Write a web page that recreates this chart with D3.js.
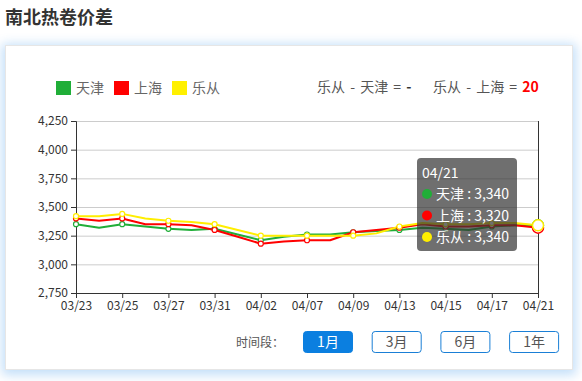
<!DOCTYPE html>
<html><head><meta charset="utf-8">
<script src="https://cdn.jsdelivr.net/npm/d3@7"></script>
<style>
html,body{margin:0;padding:0;background:#fff;}
body{width:582px;height:381px;position:relative;overflow:hidden;font-family:"Microsoft YaHei","Noto Sans CJK SC",sans-serif;}
#card{position:absolute;left:5px;top:45px;width:568px;height:325px;background:#fff;border:1px solid #e6e6e6;box-sizing:border-box;box-shadow:0 2px 10px 3px rgba(40,140,235,0.28);}
svg{position:absolute;left:0;top:0;}
</style></head>
<body>
<div id="card"></div>
<svg id="chart" width="582" height="381"></svg>
<script>
const dates = ["03/23","03/24","03/25","03/26","03/27","03/30","03/31","04/01","04/02","04/03","04/07","04/08","04/09","04/10","04/13","04/14","04/15","04/16","04/17","04/20","04/21"];
const tianjin  = [3350,3320,3350,3330,3310,3300,3310,3260,3210,3240,3260,3260,3280,3290,3300,3320,3310,3300,3330,3340,3340];
const shanghai = [3400,3380,3400,3350,3350,3340,3300,3240,3180,3200,3210,3210,3280,3300,3320,3350,3330,3330,3340,3340,3320];
const lecong   = [3420,3420,3440,3400,3380,3370,3350,3300,3250,3250,3250,3250,3250,3270,3330,3360,3350,3350,3360,3360,3340];
const seriesNames = ["天津","上海","乐从"];
const colors = ["#20ae38","#ff0000","#ffee00"];
const yTicks = [2750,3000,3250,3500,3750,4000,4250];
const periods = ["1月","3月","6月","1年"];

(function(){
const svg = d3.select("#chart");
const font = '"Microsoft YaHei","Noto Sans CJK SC",sans-serif';

// title
svg.append("text").attr("x",5).attr("y",24).attr("font-size",18).attr("font-weight","bold")
  .attr("fill","#333").attr("font-family",font).text("南北热卷价差");

const pL=76,pR=538,pT=121,pB=293;
const x = d3.scalePoint().domain(dates).range([pL,pR]);
const y = d3.scaleLinear().domain([2750,4250]).range([pB,pT]);

// grid
svg.append("g").selectAll("line").data(yTicks).join("line")
  .attr("x1",pL).attr("x2",pR).attr("y1",d=>y(d)+0.5).attr("y2",d=>y(d)+0.5)
  .attr("stroke","#ccc").attr("stroke-width",1);

// y axis
const yAxis = svg.append("g").attr("transform",`translate(${pL},0)`)
  .call(d3.axisLeft(y).tickValues(yTicks).tickFormat(d3.format(",")).tickSize(5).tickPadding(3));
yAxis.select(".domain").attr("stroke","#333");
yAxis.selectAll(".tick line").attr("stroke","#333");
yAxis.selectAll("text").attr("font-size",12).attr("fill","#333").attr("font-family",font);
// right axis line
svg.append("line").attr("x1",pR+0.5).attr("x2",pR+0.5).attr("y1",pT).attr("y2",pB)
  .attr("stroke","#333");

// x axis
const labeled = dates.filter((d,i)=>i%2===0);
const xAxis = svg.append("g").attr("transform",`translate(0,${pB})`)
  .call(d3.axisBottom(x).tickValues(labeled).tickSize(5).tickPadding(3).tickSizeOuter(0));
xAxis.select(".domain").attr("stroke","#333");
xAxis.selectAll(".tick line").attr("stroke","#333");
xAxis.selectAll("text").attr("font-size",12).attr("fill","#333").attr("font-family",font);

// lines
const data = [tianjin, shanghai, lecong];
const line = d3.line().x((d,i)=>x(dates[i])).y(d=>y(d));
data.forEach((vals,k)=>{
  svg.append("path").datum(vals).attr("d",line).attr("fill","none")
    .attr("stroke",colors[k]).attr("stroke-width",2).attr("stroke-linejoin","round");
});
data.forEach((vals,k)=>{
  svg.append("g").selectAll("circle").data(vals.map((v,i)=>({v,i})).filter(d=>d.i%2===0 && d.i!==dates.length-1))
    .join("circle").attr("cx",d=>x(dates[d.i])).attr("cy",d=>y(d.v)).attr("r",2.5)
    .attr("fill","#fff").attr("stroke",colors[k]).attr("stroke-width",1.2);
});
// hover markers at last point
const last = dates.length-1;
data.forEach((vals,k)=>{
  svg.append("circle").attr("cx",x(dates[last])).attr("cy",y(vals[last])).attr("r",5.5)
    .attr("fill","#fff").attr("stroke",colors[k]).attr("stroke-width",1.5);
});

// legend
const legX = [56,114,172];
seriesNames.forEach((n,k)=>{
  svg.append("rect").attr("x",legX[k]).attr("y",81).attr("width",15).attr("height",14).attr("fill",colors[k]==="#ffee00"?"#fff000":colors[k]);
  svg.append("text").attr("x",legX[k]+20).attr("y",93).attr("font-size",14).attr("fill","#666")
    .attr("font-family",font).text(n);
});

// difference texts
const d1 = lecong[last]-tianjin[last];
const d2 = lecong[last]-shanghai[last];
const t1 = svg.append("text").attr("x",317).attr("y",92).attr("font-size",14).attr("fill","#555")
  .attr("font-family",font).attr("word-spacing","2px").attr("xml:space","preserve");
t1.append("tspan").text("乐从 - 天津 = ");
t1.append("tspan").attr("font-weight","bold").attr("fill",d1===0?"#333":"#ff0000").text(d1===0?"-":d1);
const t2 = svg.append("text").attr("x",433).attr("y",92).attr("font-size",14).attr("fill","#555")
  .attr("font-family",font).attr("word-spacing","2px").attr("xml:space","preserve");
t2.append("tspan").text("乐从 - 上海 = ");
t2.append("tspan").attr("font-weight","bold").attr("fill","#ff0000").text(d2===0?"-":d2);

// tooltip
const tip = svg.append("g").attr("transform","translate(417,158)");
tip.append("rect").attr("width",100).attr("height",93).attr("rx",4).attr("fill","rgba(50,50,50,0.7)");
tip.append("text").attr("x",5).attr("y",20).attr("font-size",14).attr("fill","#fff").attr("font-family",font).text(dates[last]);
seriesNames.forEach((n,k)=>{
  const cy = 36 + k*21.5;
  tip.append("circle").attr("cx",10).attr("cy",cy).attr("r",5).attr("fill",colors[k]);
  tip.append("text").attr("x",19).attr("y",cy+5).attr("font-size",14).attr("fill","#fff").attr("font-family",font)
    .text(`${n} : ${d3.format(",")(data[k][last])}`);
});

// period buttons
svg.append("text").attr("x",236).attr("y",347).attr("font-size",12).attr("fill","#555").attr("font-family",font).text("时间段：");
periods.forEach((p,i)=>{
  const bx = 303 + i*68.7;
  const g = svg.append("g").attr("transform",`translate(${bx},331)`);
  g.append("rect").attr("x",0.5).attr("y",0.5).attr("width",49).attr("height",21).attr("rx",3)
    .attr("fill",i===0?"#0b7fe0":"#fff").attr("stroke",i===0?"#0b7fe0":"#1a7fd6");
  g.append("text").attr("x",25).attr("y",16).attr("text-anchor","middle").attr("font-size",14)
    .attr("fill",i===0?"#fff":"#555").attr("font-family",font).text(p);
});
})();
</script>
</body></html>
